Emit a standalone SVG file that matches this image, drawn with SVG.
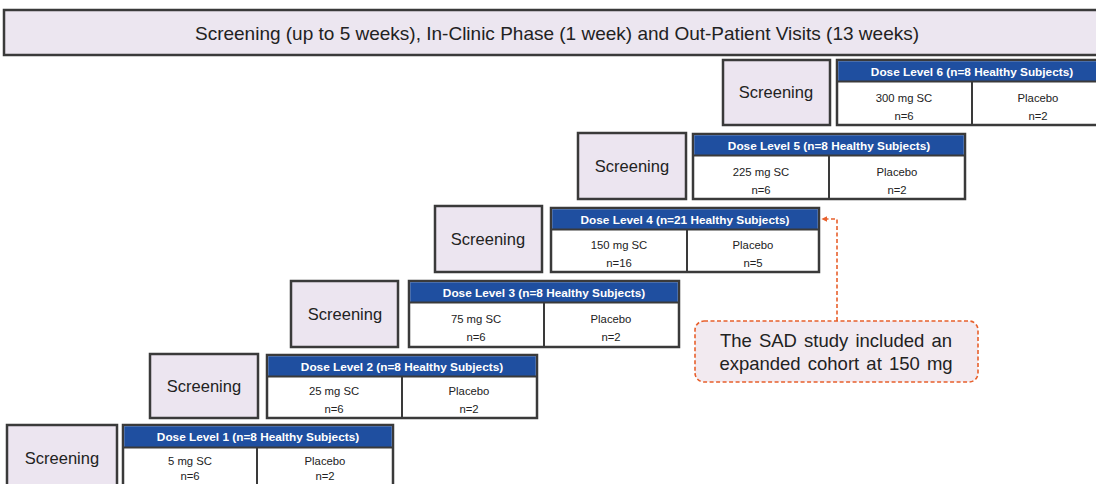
<svg xmlns="http://www.w3.org/2000/svg" width="1096" height="484" viewBox="0 0 1096 484">
<defs>
<style>
.bg{fill:#ffffff}
.banner{fill:#ECE6F0;stroke:#3a3a3a;stroke-width:2.5}
.scr{fill:#ECE5F0;stroke:#3a3a3a;stroke-width:2.5}
.tbl{fill:#ffffff;stroke:#3a3a3a;stroke-width:2.5}
.hdr{fill:#1F4FA0}
.div{stroke:#3a3a3a;stroke-width:2}
.t{font-family:"Liberation Sans",Arial,sans-serif;fill:#222;text-anchor:middle}
.bt{font-size:19px}
.st{font-size:16.5px}
.ht{font-size:11.8px;font-weight:bold;fill:#ffffff}
.ct{font-size:11.3px}
.call{fill:#F2EAF0;stroke:#E8602C;stroke-width:1.6;stroke-dasharray:4 2.5}
.conn{fill:none;stroke:#E8602C;stroke-width:1.6;stroke-dasharray:4 2.5}
.callt{font-size:18.5px;word-spacing:2px}
</style>
<marker id="ah" viewBox="0 0 10 10" refX="9" refY="5" markerWidth="6" markerHeight="6" orient="auto" markerUnits="userSpaceOnUse">
<path d="M0,0 L10,5 L0,10 z" fill="#E8602C"/>
</marker>
</defs>
<rect class="bg" x="0" y="0" width="1096" height="484"/>

<g id="banner">
<rect class="banner" x="4" y="10" width="1100" height="45"/>
<text class="t bt" x="557" y="40">Screening (up to 5 weeks), In-Clinic Phase (1 week) and Out-Patient Visits (13 weeks)</text>
</g>

<g id="level6">
<rect class="scr" x="723" y="60" width="107" height="65"/>
<text class="t st" x="776" y="98">Screening</text>
<rect class="tbl" x="837" y="60" width="270" height="65"/>
<rect class="hdr" x="838.25" y="61.25" width="267.5" height="20"/>
<line class="div" x1="837" y1="81.5" x2="1107" y2="81.5"/>
<line class="div" x1="972" y1="81.5" x2="972" y2="125"/>
<text class="t ht" x="972" y="75.5">Dose Level 6 (n=8 Healthy Subjects)</text>
<text class="t ct" x="904" y="102">300 mg SC</text>
<text class="t ct" x="904" y="120">n=6</text>
<text class="t ct" x="1038" y="102">Placebo</text>
<text class="t ct" x="1038" y="120">n=2</text>
</g>

<g id="level5">
<rect class="scr" x="578" y="133" width="108" height="66"/>
<text class="t st" x="632" y="172">Screening</text>
<rect class="tbl" x="693" y="134" width="272" height="65"/>
<rect class="hdr" x="694.25" y="135.25" width="269.5" height="20"/>
<line class="div" x1="693" y1="155.5" x2="965" y2="155.5"/>
<line class="div" x1="829" y1="155.5" x2="829" y2="199"/>
<text class="t ht" x="829" y="149.5">Dose Level 5 (n=8 Healthy Subjects)</text>
<text class="t ct" x="761" y="176">225 mg SC</text>
<text class="t ct" x="761" y="194">n=6</text>
<text class="t ct" x="897" y="176">Placebo</text>
<text class="t ct" x="897" y="194">n=2</text>
</g>

<g id="level4">
<rect class="scr" x="435" y="206" width="107" height="66"/>
<text class="t st" x="488" y="245">Screening</text>
<rect class="tbl" x="551" y="208" width="268" height="64"/>
<rect class="hdr" x="552.25" y="209.25" width="265.5" height="20"/>
<line class="div" x1="551" y1="229.5" x2="819" y2="229.5"/>
<line class="div" x1="687" y1="229.5" x2="687" y2="272"/>
<text class="t ht" x="685" y="223.5">Dose Level 4 (n=21 Healthy Subjects)</text>
<text class="t ct" x="619" y="249">150 mg SC</text>
<text class="t ct" x="619" y="267">n=16</text>
<text class="t ct" x="753" y="249">Placebo</text>
<text class="t ct" x="753" y="267">n=5</text>
</g>

<g id="level3">
<rect class="scr" x="291" y="281" width="107" height="66"/>
<text class="t st" x="345" y="320">Screening</text>
<rect class="tbl" x="409" y="281" width="270" height="66"/>
<rect class="hdr" x="410.25" y="282.25" width="267.5" height="20"/>
<line class="div" x1="409" y1="302.5" x2="679" y2="302.5"/>
<line class="div" x1="544" y1="302.5" x2="544" y2="347"/>
<text class="t ht" x="544" y="296.5">Dose Level 3 (n=8 Healthy Subjects)</text>
<text class="t ct" x="476" y="323">75 mg SC</text>
<text class="t ct" x="476" y="341">n=6</text>
<text class="t ct" x="611" y="323">Placebo</text>
<text class="t ct" x="611" y="341">n=2</text>
</g>

<g id="level2">
<rect class="scr" x="150" y="354" width="108" height="64"/>
<text class="t st" x="204" y="392">Screening</text>
<rect class="tbl" x="267" y="355" width="270" height="63"/>
<rect class="hdr" x="268.25" y="356.25" width="267.5" height="20"/>
<line class="div" x1="267" y1="376.5" x2="537" y2="376.5"/>
<line class="div" x1="402" y1="376.5" x2="402" y2="418"/>
<text class="t ht" x="402" y="370.5">Dose Level 2 (n=8 Healthy Subjects)</text>
<text class="t ct" x="334" y="395">25 mg SC</text>
<text class="t ct" x="334" y="413">n=6</text>
<text class="t ct" x="469" y="395">Placebo</text>
<text class="t ct" x="469" y="413">n=2</text>
</g>

<g id="level1">
<rect class="scr" x="7" y="425" width="110" height="66"/>
<text class="t st" x="62" y="464">Screening</text>
<rect class="tbl" x="123" y="425" width="270" height="66"/>
<rect class="hdr" x="124.25" y="426.25" width="267.5" height="21"/>
<line class="div" x1="123" y1="447.5" x2="393" y2="447.5"/>
<line class="div" x1="257" y1="447.5" x2="257" y2="491"/>
<text class="t ht" x="258" y="441">Dose Level 1 (n=8 Healthy Subjects)</text>
<text class="t ct" x="190" y="465">5 mg SC</text>
<text class="t ct" x="190" y="480">n=6</text>
<text class="t ct" x="325" y="465">Placebo</text>
<text class="t ct" x="325" y="480">n=2</text>
</g>

<g id="callout">
<rect class="call" x="695" y="321" width="283" height="61" rx="9" ry="9"/>
<text class="t callt" x="836" y="347">The SAD study included an</text>
<text class="t callt" x="836" y="370">expanded cohort at 150 mg</text>
</g>

<g id="connectors">
<path class="conn" d="M837,321 L837,219 L822,219" marker-end="url(#ah)"/>
</g>
</svg>
